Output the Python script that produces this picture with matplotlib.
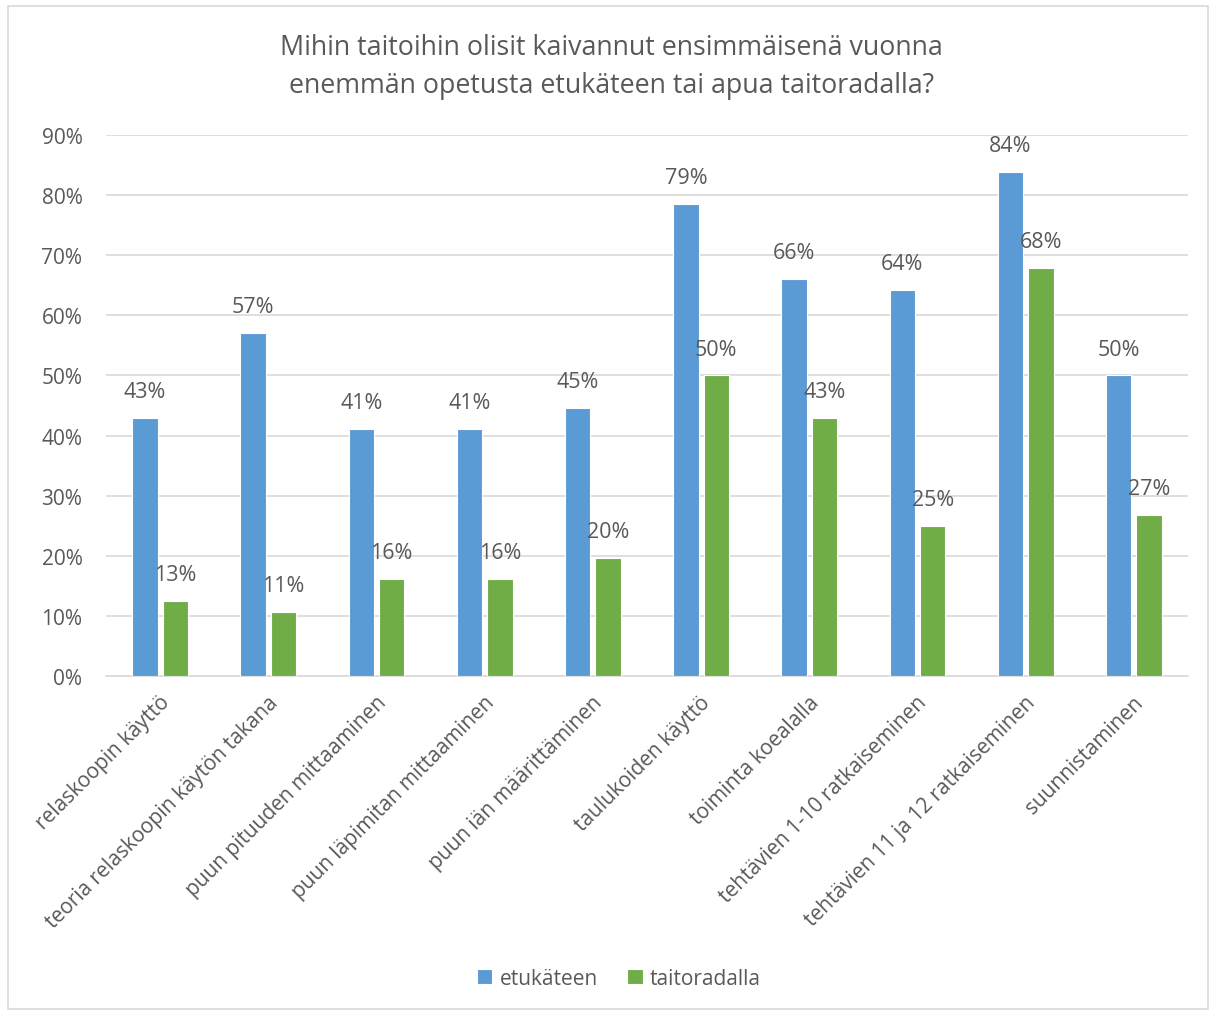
import matplotlib.pyplot as plt
import matplotlib.patches as mpatches
import numpy as np

categories = ["relaskoopin käyttö", "teoria relaskoopin käytön takana",
              "puun pituuden mittaaminen", "puun läpimitan mittaaminen",
              "puun iän määrittäminen", "taulukoiden käyttö", "toiminta koealalla",
              "tehtävien 1-10 ratkaiseminen", "tehtävien 11 ja 12 ratkaiseminen",
              "suunnistaminen"]
etukateen = [42.9, 57.1, 41.1, 41.1, 44.6, 78.6, 66.1, 64.3, 83.9, 50.0]
taitoradalla = [12.5, 10.7, 16.1, 16.1, 19.6, 50.0, 42.9, 25.0, 67.9, 26.8]
series_names = ["etukäteen", "taitoradalla"]

plt.rcParams['font.family'] = ['Open Sans', 'DejaVu Sans']
txt = '#595959'

fig = plt.figure(figsize=(12.16, 10.12), dpi=100)
ax = fig.add_axes([0.0872, 0.331, 0.8898, 0.5346])
fig.patches.append(mpatches.Rectangle((8 / 1216, 2 / 1012), 1200 / 1216, 1003 / 1012,
                                      transform=fig.transFigure, fill=False,
                                      edgecolor='#d9d9d9', linewidth=1.2))

x = np.arange(len(categories))
w = 0.235
gap = 0.045
b1 = ax.bar(x - (w + gap) / 2, etukateen, w, color='#5B9BD5', edgecolor='white',
            linewidth=0.8, label=series_names[0], zorder=3)
b2 = ax.bar(x + (w + gap) / 2, taitoradalla, w, color='#70AD47', edgecolor='white',
            linewidth=0.8, label=series_names[1], zorder=3)

for bars, vals in [(b1, etukateen), (b2, taitoradalla)]:
    for b, v in zip(bars, vals):
        ax.annotate("%d%%" % int(v + 0.5), (b.get_x() + b.get_width() / 2, v),
                    xytext=(0, 19), textcoords='offset points', ha='center',
                    va='center', fontsize=15.5, color=txt)

ax.set_xlim(-0.5, len(categories) - 0.5)
ax.set_ylim(0, 90)
ax.set_yticks(np.arange(0, 91, 10))
ax.set_yticklabels(["%d%%" % t for t in range(0, 91, 10)], fontsize=15, color=txt)
ax.yaxis.grid(True, color='#d9d9d9', linewidth=1.2, zorder=0)
ax.set_axisbelow(True)
ax.tick_params(axis='y', length=0, pad=17)
ax.tick_params(axis='x', length=0, pad=11)
ax.set_xticks(x - 0.01)
ax.set_xticklabels(categories, rotation=45, ha='right', va='top',
                   rotation_mode='anchor', fontsize=15, color=txt)
for s in ['top', 'right', 'left']:
    ax.spines[s].set_visible(False)
ax.spines['bottom'].set_color('#d9d9d9')
ax.spines['bottom'].set_linewidth(1.2)

fig.text(0.503, 0.934, "Mihin taitoihin olisit kaivannut ensimmäisenä vuonna\n"
         "enemmän opetusta etukäteen tai apua taitoradalla?",
         ha='center', va='center', fontsize=19.3, color=txt, linespacing=1.5)

fig.legend(handles=[b1, b2], labels=series_names, loc='center',
           bbox_to_anchor=(0.509, 0.032), ncol=2, frameon=False, fontsize=15,
           labelcolor=txt, handlelength=0.75, handleheight=0.75, handletextpad=0.35,
           columnspacing=1.4)

fig.savefig("out.png", dpi=100)
